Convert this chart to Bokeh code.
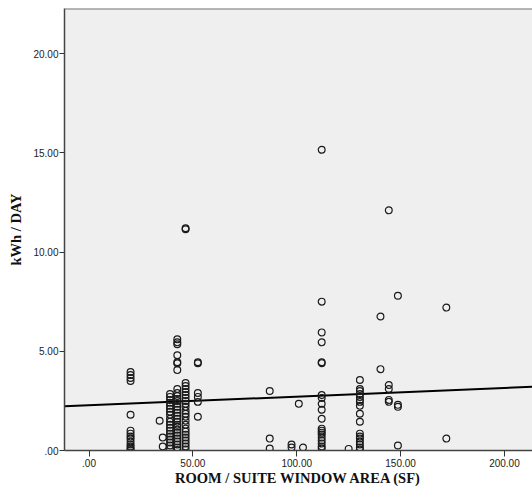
from bokeh.plotting import figure
from bokeh.models import FixedTicker, Span, Range1d
from bokeh.embed import file_html
from bokeh.resources import INLINE

# ---- data ----
area_sf = [20, 34, 35.5, 39, 42.5, 46.5, 52.4, 87, 97.5, 101, 103,
           112, 125, 130.4, 140.3, 144.3, 148.7, 172]
kwh_by_area = [
    [3.95, 3.8, 3.65, 3.5, 1.8, 1.0, 0.85, 0.7, 0.6, 0.45, 0.3, 0.2, 0.1, 0.02],
    [1.5],
    [0.65, 0.2],
    [2.85, 2.7, 2.55, 2.4, 2.25, 2.1, 1.95, 1.8, 1.6, 1.45, 1.3, 1.15, 1.0,
     0.85, 0.7, 0.55, 0.4, 0.25, 0.1],
    [5.6, 5.45, 5.35, 4.8, 4.45, 4.4, 4.05, 3.1, 2.9, 2.75, 2.6, 2.5, 2.35,
     2.2, 2.05, 1.9, 1.75, 1.6, 1.45, 1.3, 1.2, 1.05, 0.9, 0.75, 0.6, 0.45,
     0.3, 0.15, 0.02],
    [11.2, 11.15, 3.4, 3.25, 3.1, 2.95, 2.8, 2.65, 2.5, 2.35, 2.2, 2.0, 1.85,
     1.7, 1.5, 1.3, 1.1, 0.95, 0.8, 0.65, 0.5, 0.35, 0.2, 0.05],
    [4.45, 4.4, 2.9, 2.7, 2.45, 1.7],
    [3.0, 0.6, 0.1],
    [0.3, 0.15],
    [2.35],
    [0.15],
    [15.15, 7.5, 5.95, 5.45, 4.45, 4.4, 2.8, 2.65, 2.35, 2.05, 1.6, 1.1, 1.0,
     0.9, 0.8, 0.65, 0.5, 0.35, 0.2, 0.1],
    [0.08],
    [3.55, 3.1, 3.0, 2.85, 2.7, 2.55, 2.45, 2.25, 1.85, 1.45, 0.85, 0.7, 0.6,
     0.45, 0.3, 0.15, 0.05],
    [6.75, 4.1],
    [12.1, 3.3, 3.1, 2.55, 2.45],
    [7.8, 2.3, 2.2, 0.25],
    [7.2, 0.6],
]
fit_intercept = 2.28
fit_slope = 0.00435

x_ticks = [0, 50, 100, 150, 200]
x_tick_labels = [".00", "50.00", "100.00", "150.00", "200.00"]
y_ticks = [0, 5, 10, 15, 20]
y_tick_labels = [".00", "5.00", "10.00", "15.00", "20.00"]

x_min, x_max = -11.8, 213.5
y_min, y_max = 0, 22.27

xs, ys = [], []
for a, vals in zip(area_sf, kwh_by_area):
    for v in vals:
        xs.append(a)
        ys.append(v)

p = figure(width=532, height=497, x_range=Range1d(x_min, x_max),
           y_range=Range1d(y_min, y_max), output_backend="svg",
           toolbar_location=None, min_border_left=64, min_border_right=0,
           min_border_top=8, min_border_bottom=47,
           background_fill_color="#efefef", border_fill_color="white",
           outline_line_color=None)
p.xgrid.visible = False
p.ygrid.visible = False

for ax, ticks, labels in ((p.xaxis[0], x_ticks, x_tick_labels),
                          (p.yaxis[0], y_ticks, y_tick_labels)):
    ax.ticker = FixedTicker(ticks=ticks)
    ax.major_label_overrides = {t: l for t, l in zip(ticks, labels)}
    ax.minor_tick_line_color = None
    ax.major_tick_in = 0
    ax.major_tick_out = 5
    ax.major_tick_line_color = "#333333"
    ax.axis_line_color = "#444444"
    ax.axis_line_width = 1.5
    ax.major_label_text_font = "Liberation Sans"
    ax.major_label_text_font_size = "10px"
    ax.major_label_text_color = "#222222"
    ax.major_label_standoff = 1
    ax.axis_label_text_font = "Liberation Serif"
    ax.axis_label_text_font_style = "bold"
    ax.axis_label_text_font_size = "14.5px"
    ax.axis_label_text_color = "#111111"

p.xaxis.axis_label = "ROOM / SUITE WINDOW AREA (SF)"
p.xaxis.axis_label_standoff = 0
p.xaxis.major_tick_out = 6
p.xaxis.major_label_standoff = 2
p.yaxis.axis_label = "kWh / DAY"
p.yaxis.axis_label_standoff = 6

p.add_layout(Span(location=y_max, dimension="width", line_color="#777777",
                  line_width=2))

p.line([x_min, x_max],
       [fit_intercept + fit_slope * x_min, fit_intercept + fit_slope * x_max],
       line_color="black", line_width=2)

p.scatter(xs, ys, marker="circle", size=6.8, fill_color=None,
          line_color="#1a1a1a", line_width=1.2)

open("out.html", "w").write(file_html(p, INLINE))
